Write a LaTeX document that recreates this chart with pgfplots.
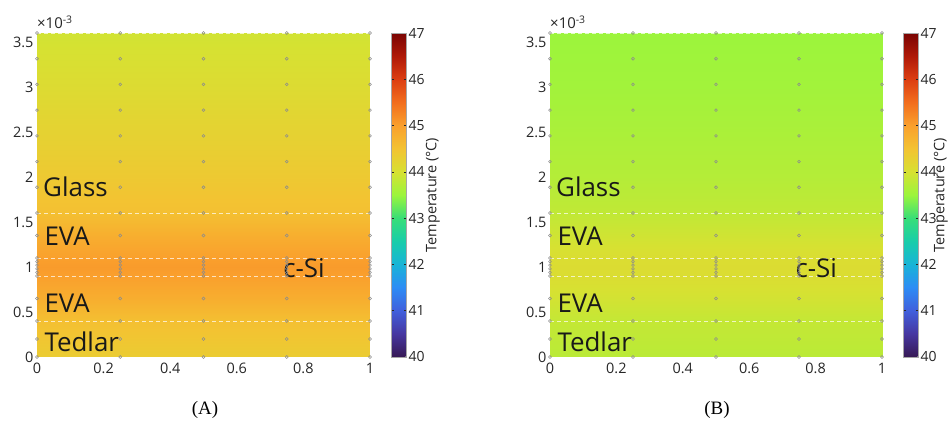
\documentclass[border=0pt]{standalone}
\usepackage{pgfplots}
\pgfplotsset{compat=1.18}
\usepackage{pgfplotstable}
\usepackage{fontspec}
\setmainfont{Open Sans}
\newfontfamily\seriffont{Liberation Serif}
\definecolor{tickgray}{RGB}{38,38,38}
\definecolor{dotgray}{RGB}{140,140,140}

\pgfplotstableread{
x y T
0 0 44.35
1 0 44.35
0 0.2 44.45
1 0.2 44.45
0 0.4 44.55
1 0.4 44.55
0 0.65 44.8
1 0.65 44.8
0 0.9 45.0
1 0.9 45.0
0 1.0 45.05
1 1.0 45.05
0 1.1 45.0
1 1.1 45.0
0 1.35 44.8
1 1.35 44.8
0 1.6 44.55
1 1.6 44.55
0 2.0 44.4
1 2.0 44.4
0 2.5 44.25
1 2.5 44.25
0 3.0 44.1
1 3.0 44.1
0 3.6 43.95
1 3.6 43.95
}\dataA

\pgfplotstableread{
x y T
0 0 43.76
1 0 43.76
0 0.2 43.8
1 0.2 43.8
0 0.4 43.84
1 0.4 43.84
0 0.65 43.96
1 0.65 43.96
0 0.9 44.06
1 0.9 44.06
0 1.0 44.08
1 1.0 44.08
0 1.1 44.06
1 1.1 44.06
0 1.35 43.94
1 1.35 43.94
0 1.6 43.81
1 1.6 43.81
0 2.0 43.71
1 2.0 43.71
0 2.5 43.63
1 2.5 43.63
0 3.0 43.56
1 3.0 43.56
0 3.6 43.51
1 3.6 43.51
}\dataB

\pgfplotstableread{
y
0
0.2
0.4
0.65
0.9
0.94
0.98
1.02
1.06
1.1
1.35
1.6
1.886
2.171
2.457
2.743
3.029
3.314
3.6
}\nodesY

\tikzset{lyr/.style={anchor=base west, font=\fontsize{26}{30}\selectfont, text=black!90, inner sep=0pt}}

\pgfplotsset{
  colormap={tempmap}{
    rgb255(0pt)=(55,25,85)
    rgb255(5pt)=(70,55,160)
    rgb255(10pt)=(65,95,220)
    rgb255(15pt)=(45,140,245)
    rgb255(20pt)=(25,180,215)
    rgb255(25pt)=(25,205,170)
    rgb255(30pt)=(55,222,120)
    rgb255(35pt)=(155,245,60)
    rgb255(40pt)=(215,225,50)
    rgb255(45pt)=(243,195,50)
    rgb255(50pt)=(250,160,45)
    rgb255(55pt)=(242,110,30)
    rgb255(60pt)=(220,62,18)
    rgb255(65pt)=(175,25,8)
    rgb255(70pt)=(122,4,3)
  },
  panel/.style={
    scale only axis,
    width=333bp, height=324bp,
    xmin=0, xmax=1, ymin=0, ymax=3.6,
    xtick={0,0.2,0.4,0.6,0.8,1},
    xticklabels={0,0.2,0.4,0.6,0.8,1},
    ytick={0,0.5,1,1.5,2,2.5,3,3.5},
    yticklabels={0,0.5,1,1.5,2,2.5,3,3.5},
    major tick length=0pt,
    axis line style={draw=none},
    tick label style={font=\fontsize{14.5}{17}\selectfont, text=tickgray},
    xticklabel style={yshift=-3bp},
    /pgf/number format/assume math mode=true,
    clip=false,
    colormap name=tempmap,
    point meta min=40, point meta max=47,
    colorbar,
    colorbar style={
      scale only axis,
      at={(parent axis.north east)}, anchor=north west, xshift=13bp,
      width=15bp, height=324bp,
      ytick={40,41,42,43,44,45,46,47},
      yticklabels={40,41,42,43,44,45,46,47},
      yticklabel pos=right,
      major tick length=2.5bp,
      tick style={tickgray, line width=0.5bp},
      axis line style={draw=gray!70, line width=0.4bp},
      yticklabel style={font=\fontsize{14}{16}\selectfont, text=tickgray, xshift=-1.5bp},
      ylabel={Temperature (°C)},
      ylabel shift=-3bp,
      ylabel style={font=\fontsize{14.5}{17}\selectfont, text=tickgray, inner sep=1bp},
      /pgf/number format/assume math mode=true,
    },
  },
}

\begin{document}
\begin{tikzpicture}
\path[use as bounding box] (0,0) rectangle (950bp,430bp);

% ---------- Panel A ----------
\begin{axis}[panel, at={(37bp,73bp)}, anchor=south west]
\addplot[surf, shader=interp, mesh/cols=2, point meta=explicit]
  table[x=x, y=y, meta=T] {\dataA};
\foreach \yy in {0.4,0.9,1.1,1.6,3.6}{
  \edef\tmp{\noexpand\addplot[white, opacity=0.7, line width=0.6bp, dash pattern=on 4bp off 3bp, forget plot] coordinates {(0,\yy) (1,\yy)};}
  \tmp
}
\foreach \xx in {0,0.25,0.5,0.75,1}{
  \edef\tmp{\noexpand\addplot[only marks, mark=o, mark size=1.4bp, dotgray, line width=0.55bp, forget plot] table[x expr=\xx, y=y] {\noexpand\nodesY};}
  \tmp
}
\node[lyr] at (axis cs:0.018,1.78) {Glass};
\node[lyr] at (axis cs:0.022,1.24) {EVA};
\node[lyr] at (axis cs:0.739,0.88) {c-Si};
\node[lyr] at (axis cs:0.022,0.49) {EVA};
\node[lyr] at (axis cs:0.022,0.06) {Tedlar};
\node[anchor=south west, font=\fontsize{15}{17}\selectfont, text=tickgray, inner sep=0pt]
  at (rel axis cs:0,1) [yshift=4bp] {×10\textsuperscript{-3}};
\end{axis}

% ---------- Panel B ----------
\begin{axis}[panel, at={(550bp,73bp)}, anchor=south west, width=332bp,
  colorbar style={ylabel shift=-7bp}]
\addplot[surf, shader=interp, mesh/cols=2, point meta=explicit]
  table[x=x, y=y, meta=T] {\dataB};
\foreach \yy in {0.4,0.9,1.1,1.6,3.6}{
  \edef\tmp{\noexpand\addplot[white, opacity=0.7, line width=0.6bp, dash pattern=on 4bp off 3bp, forget plot] coordinates {(0,\yy) (1,\yy)};}
  \tmp
}
\foreach \xx in {0,0.25,0.5,0.75,1}{
  \edef\tmp{\noexpand\addplot[only marks, mark=o, mark size=1.4bp, dotgray, line width=0.55bp, forget plot] table[x expr=\xx, y=y] {\noexpand\nodesY};}
  \tmp
}
\node[lyr] at (axis cs:0.018,1.78) {Glass};
\node[lyr] at (axis cs:0.022,1.24) {EVA};
\node[lyr] at (axis cs:0.739,0.88) {c-Si};
\node[lyr] at (axis cs:0.022,0.49) {EVA};
\node[lyr] at (axis cs:0.022,0.06) {Tedlar};
\node[anchor=south west, font=\fontsize{15}{17}\selectfont, text=tickgray, inner sep=0pt]
  at (rel axis cs:0,1) [yshift=4bp] {×10\textsuperscript{-3}};
\end{axis}

\node[font=\seriffont\fontsize{19}{21}\selectfont] at (205bp,20bp) {(A)};
\node[font=\seriffont\fontsize{19}{21}\selectfont] at (717bp,20bp) {(B)};
\end{tikzpicture}
\end{document}
